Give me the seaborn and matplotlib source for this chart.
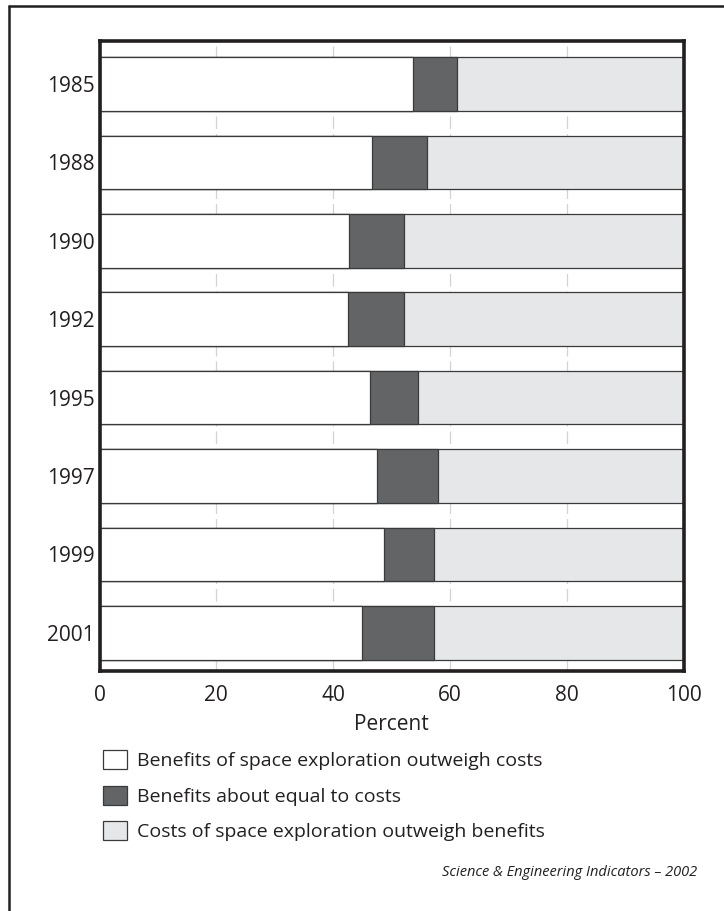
import pandas as pd
import seaborn as sns
import matplotlib.pyplot as plt
from matplotlib.patches import Patch
from matplotlib.lines import Line2D

# Survey years and shares (percent)
years = ['1985', '1988', '1990', '1992', '1995', '1997', '1999', '2001']
benefits = [53.6, 46.7, 42.8, 42.6, 46.3, 47.5, 48.7, 44.9]
equal = [7.7, 9.4, 9.4, 9.5, 8.3, 10.5, 8.6, 12.4]
costs = [38.7, 43.9, 47.8, 47.9, 45.4, 42.0, 42.7, 42.7]
x_ticks = [0, 20, 40, 60, 80, 100]
legend_labels = ['Benefits of space exploration outweigh costs',
                 'Benefits about equal to costs',
                 'Costs of space exploration outweigh benefits']

df = pd.DataFrame({'year': years, 'benefits': benefits, 'equal': equal, 'costs': costs})
df['cum_equal'] = df['benefits'] + df['equal']
df['cum_costs'] = df['cum_equal'] + df['costs']

sns.set_style('white')
plt.rcParams['font.family'] = ['Open Sans', 'DejaVu Sans']

ink = '#231f20'
edge = '#3a3a3b'
c_white = '#ffffff'
c_dark = '#636466'
c_light = '#e6e7e8'

fig = plt.figure(figsize=(7.24, 9.11), dpi=100)
W, H = 724, 911
ax = fig.add_axes([99.5 / W, 1 - 671 / H, 584 / W, 630 / H])

# stacked bars: draw cumulative totals back to front
for col, color in [('cum_costs', c_light), ('cum_equal', c_dark), ('benefits', c_white)]:
    sns.barplot(data=df, x=col, y='year', order=years, orient='h', color=color,
                saturation=1, width=0.684, edgecolor=edge, linewidth=0.9,
                errorbar=None, ax=ax)

ax.set_xlim(0, 100)
ax.set_ylim(7.487, -0.548)
ax.set_xticks(x_ticks)
ax.set_axisbelow(True)
ax.xaxis.grid(True, color='#d1d3d4', linewidth=0.9, linestyle=(0, (10, 4)))
ax.yaxis.grid(False)
for s in ax.spines.values():
    s.set_visible(True)
    s.set_color(ink)
    s.set_linewidth(2.6)
ax.tick_params(axis='y', length=0, pad=3.2, labelsize=15, labelcolor=ink)
ax.tick_params(axis='x', length=0, pad=10, labelsize=15, labelcolor=ink)
ax.set_ylabel('')
ax.set_xlabel('Percent', fontsize=15, color=ink, labelpad=5.5)

handles = [Patch(facecolor=c, edgecolor=edge, linewidth=0.9) for c in (c_white, c_dark, c_light)]
fig.legend(handles, legend_labels, loc='upper left', bbox_to_anchor=(103.3 / W, 1 - 750 / H),
           frameon=False, fontsize=14, handlelength=1.2, handleheight=1.12,
           handletextpad=0.52, labelspacing=0.8, borderpad=0, borderaxespad=0,
           labelcolor=ink)

fig.text(697 / W, 1 - 872.7 / H, 'Science & Engineering Indicators \u2013 2002',
         ha='right', va='center', style='italic', fontsize=10.5, color=ink)

# outer frame (left and top edges only)
fig.add_artist(Line2D([8.7 / W, 8.7 / W], [0, 1 - 6.2 / H], color=ink, linewidth=1.8))
fig.add_artist(Line2D([8.7 / W, 1], [1 - 6.2 / H, 1 - 6.2 / H], color=ink, linewidth=1.8))

fig.savefig('out.png', dpi=100)
